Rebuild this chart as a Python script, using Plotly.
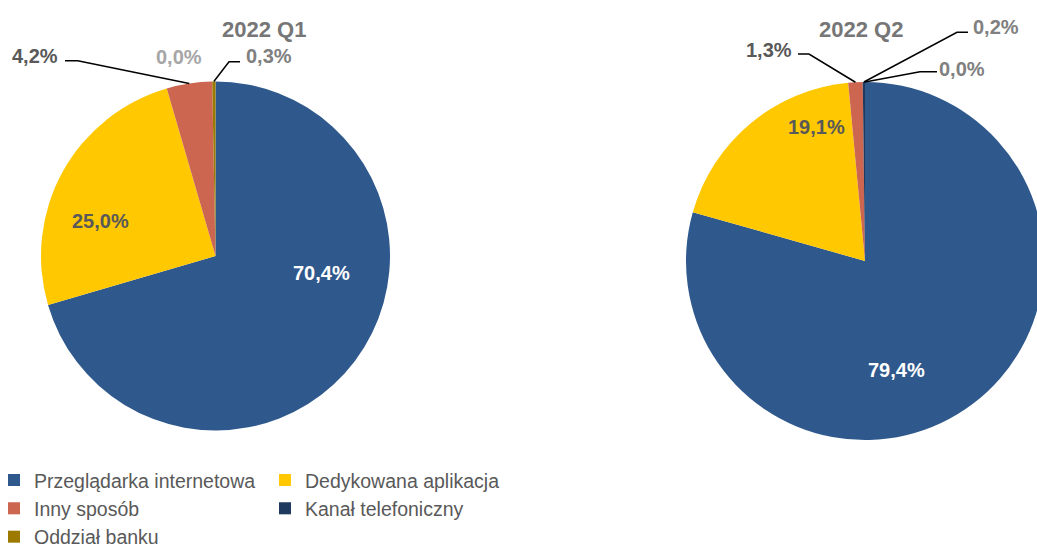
import math
import plotly.graph_objects as go

# ---------------- data ----------------
categories = ['Przeglądarka internetowa', 'Dedykowana aplikacja', 'Inny sposób',
              'Kanał telefoniczny', 'Oddział banku']
q1_values = [70.4, 25.0, 4.2, 0.0, 0.3]
q2_values = [79.4, 19.1, 1.3, 0.2, 0.0]
titles = ['2022 Q1', '2022 Q2']

# ---------------- style / layout ----------------
colors = ['#2F598D', '#FFC800', '#CD6651', '#1F3A5F', '#9C7A00']
W, H = 1200, 547          # page wider than window; overflow hidden
FONT = 'Liberation Sans'

pies = [
    dict(cx=215.5, cy=256.0, r=174.5, title_xy=(264, 29.5)),
    dict(cx=865.0, cy=261.0, r=179.0, title_xy=(861, 29.5)),
]
label_layout = [
    {0: dict(xy=(321.7, 273.0), color='#FFFFFF'),
     1: dict(xy=(100.8, 220.5), color='#595959'),
     2: dict(xy=(35.0, 56.0), color='#595959', leader=(65.0, 60.7, 77.7)),
     3: dict(xy=(179.0, 57.0), color='#A6A6A6'),
     4: dict(xy=(269.0, 56.0), color='#808080', leader=(240.0, 61.7, 229.0))},
    {0: dict(xy=(896.3, 370.5), color='#FFFFFF'),
     1: dict(xy=(816.0, 126.5), color='#595959'),
     2: dict(xy=(768.5, 50.0), color='#595959', leader=(798.0, 54.0, 809.0)),
     3: dict(xy=(996.0, 27.0), color='#808080', leader=(968.0, 32.3, 957.0)),
     4: dict(xy=(962.0, 69.0), color='#808080', leader=(937.0, 71.7, 920.0))},
]


def fx(px):
    return px / W


def fy(py):
    return 1 - py / H


def fmt(v):
    return f"{v:.1f}".replace('.', ',') + '%'


fig = go.Figure()
annotations = []
shapes = []

for k, vals in enumerate([q1_values, q2_values]):
    g = pies[k]
    fig.add_trace(go.Pie(
        labels=categories, values=vals, sort=False, direction='clockwise',
        rotation=0, textinfo='none', hoverinfo='label+value',
        marker=dict(colors=colors, line=dict(width=0)),
        domain=dict(x=[fx(g['cx'] - g['r']), fx(g['cx'] + g['r'])],
                    y=[fy(g['cy'] + g['r']), fy(g['cy'] - g['r'])]),
        name=titles[k],
    ))
    annotations.append(dict(
        text=titles[k], x=fx(g['title_xy'][0]), y=fy(g['title_xy'][1]),
        xref='paper', yref='paper', xanchor='center', yanchor='middle',
        showarrow=False,
        font=dict(family=FONT, size=22, color='#767676', weight='bold')))
    total = sum(vals)
    cum = 0.0
    for i, v in enumerate(vals):
        mid = (cum + v / 2) / total * 2 * math.pi
        cum += v
        lay = label_layout[k][i]
        annotations.append(dict(
            text=fmt(v), x=fx(lay['xy'][0]), y=fy(lay['xy'][1]),
            xref='paper', yref='paper', xanchor='center', yanchor='middle',
            showarrow=False,
            font=dict(family=FONT, size=20, color=lay['color'], weight='bold')))
        if 'leader' in lay:
            x0, yl, xe = lay['leader']
            ex = g['cx'] + g['r'] * math.sin(mid)
            ey = g['cy'] - g['r'] * math.cos(mid)
            path = f"M {fx(x0)},{fy(yl)} L {fx(xe)},{fy(yl)} L {fx(ex)},{fy(ey)}"
            shapes.append(dict(type='path', path=path, xref='paper', yref='paper',
                               line=dict(color='#000000', width=1.5)))

fig.update_layout(
    width=W, height=H,
    margin=dict(l=0, r=0, t=0, b=0, autoexpand=False),
    paper_bgcolor='white', plot_bgcolor='white',
    font=dict(family=FONT, color='#595959'),
    annotations=annotations, shapes=shapes,
    showlegend=True,
    legend=dict(orientation='h', x=-6 / W, xanchor='left',
                y=fy(460.8), yanchor='top',
                entrywidth=226, entrywidthmode='pixels',
                font=dict(family=FONT, size=19.5, color='#595959'),
                bgcolor='rgba(0,0,0,0)', traceorder='normal'),
)

fig.write_html(
    "out.html",
    post_script=("document.documentElement.style.overflow='hidden';"
                 "document.body.style.overflow='hidden';"
                 "document.body.style.margin='0';"))
